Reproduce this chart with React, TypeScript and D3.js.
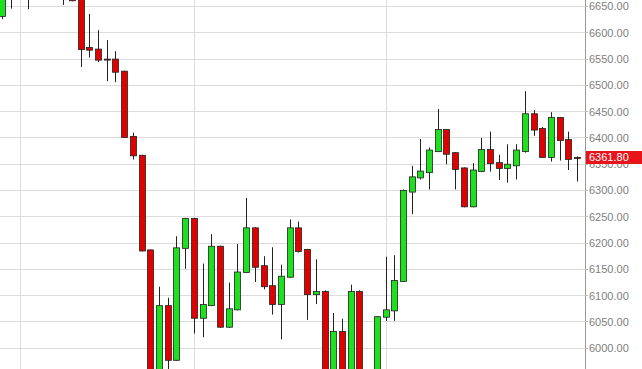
import React from "react";
import * as d3 from "d3";

const opens = [6630, 6700, 6690, 6700, 6685, 6705, 6695, 6680, 6690, 6665, 6571, 6568, 6549, 6549, 6526, 6402, 6366, 6186, 5940, 6080, 5976, 6189, 6246, 6056, 6080, 6193, 6039, 6072, 6143, 6228, 6156, 6118, 6082, 6134, 6228, 6187, 6101, 6107, 5935, 6031, 5925, 6107, 5940, 5925, 6058, 6070, 6126, 6296, 6323, 6333, 6373, 6415, 6371, 6342, 6268, 6335, 6377, 6352, 6341, 6346, 6373, 6445, 6417, 6362, 6438, 6396, 6362];
const highs = [6700, 6710, 6720, 6715, 6720, 6730, 6710, 6700, 6705, 6668, 6635, 6604, 6585, 6564, 6527, 6409, 6367, 6187, 6116, 6095, 6212, 6247, 6247, 6160, 6216, 6194, 6124, 6197, 6285, 6229, 6174, 6191, 6158, 6244, 6240, 6188, 6168, 6109, 6066, 6055, 6120, 6109, 5955, 6060, 6173, 6176, 6301, 6346, 6397, 6381, 6454, 6416, 6372, 6343, 6351, 6399, 6411, 6367, 6387, 6387, 6488, 6452, 6420, 6448, 6439, 6411, 6364];
const lows = [6625, 6645, 6670, 6644, 6665, 6680, 6670, 6652, 6659, 6534, 6552, 6543, 6507, 6505, 6399, 6358, 6183, 5930, 5935, 5945, 5975, 6150, 6027, 6020, 6079, 6038, 6038, 6071, 6142, 6125, 6111, 6063, 6016, 6133, 6181, 6053, 6083, 5920, 5925, 5915, 5920, 5920, 5900, 5920, 6051, 6051, 6125, 6254, 6320, 6301, 6372, 6349, 6301, 6267, 6267, 6334, 6335, 6319, 6314, 6320, 6371, 6403, 6362, 6354, 6356, 6338, 6316];
const closes = [6690, 6680, 6700, 6680, 6705, 6695, 6680, 6670, 6660, 6567, 6566, 6547, 6548, 6524, 6400, 6365, 6184, 5945, 6080, 5976, 6190, 6246, 6056, 6082, 6193, 6039, 6074, 6144, 6228, 6153, 6116, 6082, 6136, 6228, 6183, 6101, 6107, 5935, 6031, 5925, 6107, 5940, 5920, 6059, 6072, 6128, 6299, 6325, 6336, 6376, 6415, 6368, 6339, 6268, 6338, 6377, 6350, 6341, 6349, 6376, 6445, 6414, 6362, 6438, 6394, 6358, 6361.8];
const yTicks = [6000, 6050, 6100, 6150, 6200, 6250, 6300, 6350, 6400, 6450, 6500, 6550, 6600, 6650];
const vGridIdx = [2, 22, 44];
const lastPrice = 6361.8;

const W = 642;
const H = 369;
const AXIS_X = 585;

export default function App() {
  const x = d3.scaleLinear().domain([0, 66]).range([2.1, 577.2]);
  const y = d3.scaleLinear().domain([6000, 6650]).range([347.7, 6]);
  const bw = 5;
  return (
    <svg
      width={W}
      height={H}
      style={{ position: "fixed", left: 0, top: 0, display: "block", background: "#fff" }}
    >
      <defs>
        <clipPath id="plot">
          <rect x={0} y={0} width={AXIS_X} height={H} />
        </clipPath>
      </defs>
      <rect x={0} y={0} width={W} height={H} fill="#fff" />
      {yTicks.map((t) => (
        <line key={"h" + t} x1={0} x2={AXIS_X} y1={Math.round(y(t)) + 0.5} y2={Math.round(y(t)) + 0.5} stroke="#dcdcdc" strokeWidth={1} />
      ))}
      {vGridIdx.map((i) => (
        <line key={"v" + i} x1={Math.round(x(i)) + 0.5} x2={Math.round(x(i)) + 0.5} y1={0} y2={H} stroke="#dcdcdc" strokeWidth={1} />
      ))}
      <g clipPath="url(#plot)">
        {opens.map((o, i) => {
          const c = closes[i];
          const up = c > o;
          const cx = Math.round(x(i)) + 0.5;
          const top = y(Math.max(o, c));
          const bot = y(Math.min(o, c));
          const h = Math.max(1, bot - top);
          return (
            <g key={i}>
              <line x1={cx} x2={cx} y1={y(highs[i])} y2={y(lows[i])} stroke="#222" strokeWidth={1} />
              <rect
                x={cx - bw / 2 - 0.5}
                y={top}
                width={bw + 1}
                height={h}
                fill={up ? "#1ee01e" : "#e00000"}
                stroke="#222"
                strokeWidth={0.8}
              />
            </g>
          );
        })}
      </g>
      <line x1={AXIS_X + 0.5} x2={AXIS_X + 0.5} y1={0} y2={H} stroke="#999" strokeWidth={1} />
      {yTicks.map((t) => (
        <g key={"l" + t}>
          <line x1={AXIS_X} x2={AXIS_X + 3} y1={Math.round(y(t)) + 0.5} y2={Math.round(y(t)) + 0.5} stroke="#bbb" />
          <text
            x={589}
            y={y(t) + 1.5}
            dominantBaseline="middle"
            fontFamily="Liberation Sans, Arial, sans-serif"
            fontSize={11}
            fill="#808080"
          >
            {d3.format(".2f")(t)}
          </text>
        </g>
      ))}
      <rect x={586} y={y(lastPrice) - 6.5} width={56} height={13} fill="#e8141c" />
      <text
        x={589}
        y={y(lastPrice) + 0.5}
        dominantBaseline="middle"
        fontFamily="Liberation Sans, Arial, sans-serif"
        fontSize={11}
        fill="#fff"
      >
        {d3.format(".2f")(lastPrice)}
      </text>
    </svg>
  );
}
